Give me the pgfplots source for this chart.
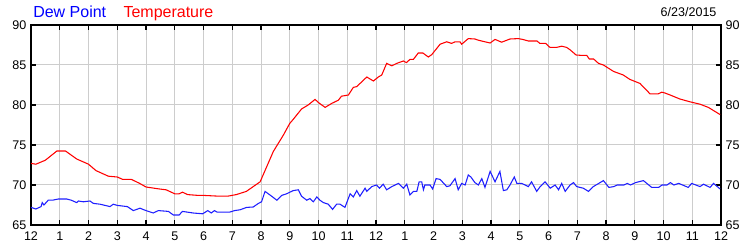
\documentclass[border=0pt]{standalone}
\usepackage{pgfplots}
\pgfplotsset{compat=1.18}
\usepackage{fontspec}
\setmainfont{Liberation Sans}
\definecolor{gridgray}{RGB}{205,205,205}
\definecolor{dewblue}{RGB}{30,30,255}
\definecolor{tempred}{RGB}{255,0,0}
\begin{document}
\begin{tikzpicture}
\pgfplotsset{
  common/.style={
    at={(0,0)}, anchor=south west,
    scale only axis, width=517.5pt, height=150pt,
    xmin=0, xmax=24, ymin=65, ymax=90,
    ytick={65,70,75,80,85,90},
    /pgf/number format/assume math mode=true,
    tick label style={font=\fontsize{9.4}{11}\selectfont, text=black},
  }
}
\begin{axis}[common,
  xtick={0,...,24},
  xticklabels={12,1,2,3,4,5,6,7,8,9,10,11,12,1,2,3,4,5,6,7,8,9,10,11,12},
  tick align=inside, major tick length=3.75pt,
  xtick pos=both, ytick pos=both,
  yticklabel pos=left,
  xticklabel pos=bottom,
  grid=major,
  major grid style={gridgray, line width=0.75pt},
  axis line style={black, line width=1.1pt},
  tick style={black, line width=0.9pt},
  xticklabel style={yshift=-1.5pt},
]
\addplot[tempred, line width=0.8pt] coordinates {
(0,72.7)(0.17,72.6)(0.5,73.1)(0.9,74.25)(1.2,74.25)(1.59,73.25)(2.0,72.6)(2.26,71.8)(2.69,71.1)(3.0,71.0)(3.19,70.7)(3.49,70.7)(3.78,70.2)(4.0,69.75)(4.47,69.5)(4.7,69.4)(5.0,68.9)(5.15,68.9)(5.27,69.1)(5.45,68.8)(5.81,68.7)(6.0,68.7)(6.55,68.6)(6.84,68.6)(7.14,68.8)(7.49,69.2)(7.73,69.8)(7.97,70.4)(8.2,72.3)(8.43,74.2)(8.78,76.25)(9.0,77.7)(9.12,78.2)(9.41,79.5)(9.64,80.0)(9.88,80.7)(10.0,80.3)(10.23,79.7)(10.46,80.2)(10.69,80.6)(10.8,81.1)(11.04,81.25)(11.21,82.2)(11.33,82.3)(11.68,83.5)(11.91,83.0)(12.08,83.5)(12.2,83.75)(12.37,85.2)(12.55,84.9)(12.72,85.2)(12.95,85.5)(13.06,85.3)(13.18,85.7)(13.3,85.7)(13.47,86.5)(13.63,86.5)(13.82,86.0)(13.94,86.3)(14.23,87.6)(14.46,87.9)(14.63,87.7)(14.75,87.9)(14.92,87.9)(14.98,87.6)(15.21,88.3)(15.44,88.25)(15.56,88.1)(15.79,87.9)(15.97,87.75)(16.14,88.2)(16.37,87.85)(16.66,88.25)(16.95,88.3)(17.1,88.2)(17.3,88.0)(17.6,88.0)(17.7,87.7)(17.9,87.7)(18.05,87.2)(18.28,87.2)(18.46,87.35)(18.63,87.2)(18.75,86.9)(18.96,86.25)(19.15,86.2)(19.33,86.2)(19.42,85.75)(19.57,85.75)(19.74,85.2)(19.91,85.0)(20.26,84.2)(20.6,83.75)(20.83,83.2)(21.18,82.7)(21.53,81.4)(21.82,81.4)(21.94,81.6)(22.05,81.5)(22.23,81.25)(22.57,80.75)(22.92,80.4)(23.27,80.1)(23.56,79.7)(23.97,78.8)
};
\addplot[dewblue, line width=0.8pt] coordinates {
(0,67.2)(0.17,67.0)(0.35,67.3)(0.39,67.8)(0.45,67.5)(0.6,68.1)(0.75,68.1)(0.95,68.25)(1.24,68.25)(1.4,68.1)(1.59,67.8)(1.65,68.0)(1.82,67.9)(2.05,68.0)(2.17,67.7)(2.4,67.6)(2.75,67.3)(2.86,67.6)(3.0,67.45)(3.35,67.3)(3.56,66.8)(3.79,67.1)(4.0,66.8)(4.25,66.5)(4.43,66.8)(4.78,66.7)(4.95,66.25)(5.15,66.25)(5.27,66.7)(5.64,66.5)(5.97,66.4)(6.15,66.8)(6.27,66.5)(6.38,66.8)(6.48,66.6)(6.9,66.6)(7.08,66.8)(7.27,66.9)(7.5,67.2)(7.73,67.25)(7.91,67.7)(8.02,67.9)(8.14,69.2)(8.37,68.6)(8.55,68.1)(8.72,68.7)(8.89,68.9)(9.12,69.3)(9.3,69.4)(9.41,68.6)(9.59,68.1)(9.7,68.3)(9.82,67.9)(9.94,68.5)(10.05,68.1)(10.17,67.8)(10.34,67.6)(10.49,66.95)(10.63,67.6)(10.75,67.6)(10.92,67.2)(11.1,68.9)(11.21,68.5)(11.33,69.3)(11.44,68.6)(11.62,69.6)(11.68,69.2)(11.85,69.8)(12.02,70.0)(12.12,69.6)(12.25,70.1)(12.37,69.4)(12.55,69.8)(12.78,70.2)(12.95,69.6)(13.07,70.1)(13.18,68.75)(13.3,69.2)(13.42,69.2)(13.5,70.4)(13.59,70.4)(13.65,69.4)(13.7,70.0)(13.88,70.0)(13.97,69.5)(14.09,70.8)(14.23,70.7)(14.46,69.8)(14.57,69.9)(14.75,70.8)(14.86,69.4)(14.98,70.2)(15.1,70.0)(15.21,71.25)(15.3,71.0)(15.44,70.3)(15.56,70.0)(15.68,70.8)(15.79,69.7)(15.97,71.7)(16.14,70.4)(16.31,71.7)(16.43,69.3)(16.55,69.4)(16.66,70.0)(16.81,71.0)(16.9,70.2)(17.07,70.2)(17.3,69.8)(17.41,70.4)(17.59,69.2)(17.71,69.8)(17.88,70.4)(18.06,69.6)(18.23,70.0)(18.35,69.4)(18.46,70.2)(18.58,69.2)(18.75,70.0)(18.87,70.3)(18.98,69.8)(19.21,69.6)(19.39,69.2)(19.56,69.8)(19.91,70.55)(20.1,69.7)(20.27,69.8)(20.39,70.0)(20.62,70.0)(20.74,70.2)(20.85,70.0)(21.03,70.3)(21.3,70.55)(21.59,69.7)(21.83,69.7)(21.95,70.0)(22.12,70.0)(22.24,70.3)(22.36,70.0)(22.53,70.2)(22.86,69.7)(22.98,70.2)(23.27,69.8)(23.39,70.1)(23.62,69.7)(23.74,70.2)(23.97,69.5)
};
\end{axis}
\begin{axis}[common,
  axis x line=none,
  axis y line*=right,
  axis line style={draw=none},
  major tick length=0pt,
  yticklabel pos=right,
]
\end{axis}
\node[anchor=base west, text=blue, font=\fontsize{12}{14}\selectfont, inner sep=0pt] at (1.5pt,155.7pt) {Dew Point};
\node[anchor=base west, text=red, font=\fontsize{12}{14}\selectfont, inner sep=0pt] at (69.2pt,155.7pt) {Temperature};
\node[anchor=base east, text=black, font=\fontsize{9.4}{11}\selectfont, inner sep=0pt] at (514.3pt,156.2pt) {6/23/2015};
\path[use as bounding box] (-23.25pt,-18.75pt) rectangle (539.25pt,168.75pt);
\end{tikzpicture}
\end{document}
